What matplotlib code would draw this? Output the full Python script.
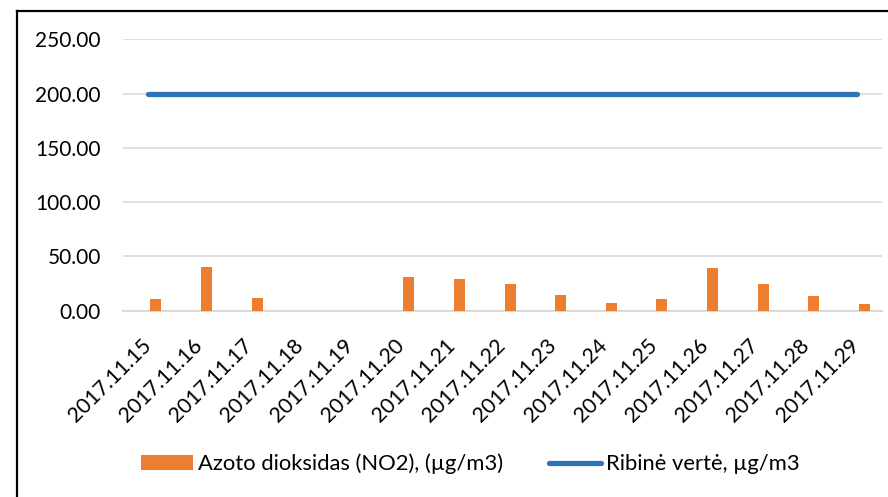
import numpy as np
import matplotlib.pyplot as plt
from matplotlib.lines import Line2D

dates = ['2017.11.15', '2017.11.16', '2017.11.17', '2017.11.18', '2017.11.19',
         '2017.11.20', '2017.11.21', '2017.11.22', '2017.11.23', '2017.11.24',
         '2017.11.25', '2017.11.26', '2017.11.27', '2017.11.28', '2017.11.29']
no2 = [10.8, 40.5, 11.7, np.nan, np.nan, 30.7, 28.9, 24.9, 14.5, 7.4,
       10.8, 39.0, 24.6, 13.5, 5.9]
limit = [200] * len(dates)
yticks = [0, 50, 100, 150, 200, 250]

plt.rcParams['font.family'] = ['Lato', 'DejaVu Sans']

fig = plt.figure(figsize=(8.88, 4.97), dpi=100)
ax = fig.add_axes([123 / 888, 1 - 310.7 / 497, 759 / 888, 271.4 / 497])

x = np.arange(len(dates))
bars = ax.bar(x + 0.15, no2, width=0.22, color='#ED7D31', zorder=3,
              label='Azoto dioksidas (NO2), (µg/m3)')
line, = ax.plot(x, limit, color='#2E75B6', lw=3.8, solid_capstyle='round', zorder=4,
                label='Ribinė vertė, µg/m3')

ax.set_xlim(-0.5, len(dates) - 0.5)
ax.set_ylim(0, 250)
ax.set_yticks(yticks)
ax.set_yticklabels([f'{v:.2f}' for v in yticks], fontsize=15)
ax.set_xticks(x)
ax.set_xticklabels(dates, rotation=45, ha='right', va='center',
                   rotation_mode='anchor', fontsize=15.3)
ax.tick_params(axis='y', length=0, pad=16)
ax.tick_params(axis='x', length=0, pad=23)
ax.yaxis.grid(True, color='#D9D9D9', lw=1.2, zorder=0)
for s in ['top', 'right', 'left']:
    ax.spines[s].set_visible(False)
ax.spines['bottom'].set_color('#D9D9D9')
ax.spines['bottom'].set_linewidth(1.5)

fig.legend(handles=[bars, line], loc='center', bbox_to_anchor=(470 / 888, 1 - 464 / 497),
           ncol=2, frameon=False, fontsize=15.8, handlelength=2.4, handleheight=0.65,
           handletextpad=0.2, columnspacing=2.1)

# chart border (only left and top are inside the picture)
fig.add_artist(Line2D([17 / 888, 17 / 888], [0, 1 - 11 / 497], color='black', lw=1.6))
fig.add_artist(Line2D([17 / 888, 1], [1 - 11 / 497, 1 - 11 / 497], color='black', lw=1.6))

fig.savefig('out.png', dpi=100)
